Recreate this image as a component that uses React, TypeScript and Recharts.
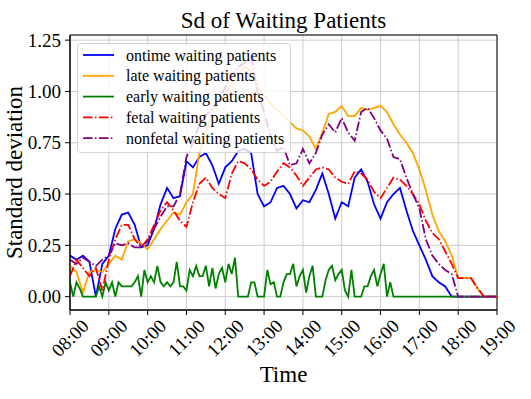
import React from 'react';
import { LineChart, Line, XAxis, YAxis, CartesianGrid, ReferenceArea } from 'recharts';

const serif = "'Liberation Serif', 'DejaVu Serif', serif";

const hourTicks = [8, 9, 10, 11, 12, 13, 14, 15, 16, 17, 18, 19];
const hourLabels = ['08:00', '09:00', '10:00', '11:00', '12:00', '13:00', '14:00', '15:00', '16:00', '17:00', '18:00', '19:00'];
const yTicks = [0, 0.25, 0.5, 0.75, 1.0, 1.25];

// every 10 minutes, 08:00 .. 19:00
const ontime = [
  0.20, 0.18, 0.20, 0.17, 0.00, 0.16,
  0.20, 0.33, 0.40, 0.41, 0.35, 0.24,
  0.25, 0.33, 0.45, 0.53, 0.48, 0.49,
  0.66, 0.63, 0.68, 0.70, 0.64, 0.55,
  0.63, 0.66, 0.71, 0.72, 0.70, 0.50,
  0.44, 0.46, 0.53, 0.54, 0.50, 0.43,
  0.47, 0.46, 0.52, 0.60, 0.50, 0.38,
  0.46, 0.44, 0.58, 0.62, 0.56, 0.45,
  0.38, 0.46, 0.50, 0.53, 0.42, 0.32,
  0.25, 0.18, 0.10, 0.07, 0.05, 0.00,
  0.00, 0.00, 0.00, 0.00, 0.00, 0.00, 0.00,
];

const late = [
  0.15, 0.12, 0.02, 0.12, 0.13, 0.12,
  0.16, 0.20, 0.18, 0.27, 0.28, 0.26,
  0.23, 0.28, 0.33, 0.37, 0.41, 0.40,
  0.46, 0.50, 0.70, 0.80, 0.90, 0.95,
  0.99, 1.04, 1.08, 1.12, 1.10, 1.02,
  0.98, 0.94, 0.91, 0.88, 0.85, 0.82,
  0.81, 0.78, 0.72, 0.80, 0.89, 0.90,
  0.93, 0.88, 0.88, 0.92, 0.91, 0.92,
  0.93, 0.90, 0.84, 0.79, 0.75, 0.70,
  0.62, 0.52, 0.40, 0.32, 0.27, 0.20,
  0.09, 0.09, 0.09, 0.04, 0.00, 0.00, 0.00,
];

// every 5 minutes, 08:00 .. 19:00
const early = [
  0.07, 0.00, 0.07, 0.04, 0.00, 0.00, 0.00, 0.00, 0.00, 0.05, 0.00, 0.07,
  0.03, 0.07, 0.00, 0.07, 0.05, 0.05, 0.05, 0.05, 0.07, 0.10, 0.00, 0.13,
  0.07, 0.10, 0.07, 0.15, 0.07, 0.05, 0.07, 0.05, 0.07, 0.17, 0.05, 0.05,
  0.03, 0.13, 0.10, 0.15, 0.10, 0.10, 0.15, 0.05, 0.14, 0.04, 0.11, 0.14,
  0.07, 0.16, 0.11, 0.19, 0.00, 0.00, 0.00, 0.00, 0.07, 0.07, 0.00, 0.00,
  0.00, 0.13, 0.06, 0.07, 0.00, 0.00, 0.07, 0.11, 0.11, 0.16, 0.05, 0.10,
  0.13, 0.02, 0.10, 0.15, 0.00, 0.00, 0.00, 0.08, 0.13, 0.15, 0.08, 0.11,
  0.13, 0.03, 0.00, 0.13, 0.00, 0.00, 0.00, 0.05, 0.05, 0.10, 0.13, 0.05,
  0.11, 0.16, 0.00, 0.07, 0.00, 0.00, 0.00, 0.00, 0.00, 0.00, 0.00, 0.00,
  0.00, 0.00, 0.00, 0.00, 0.00, 0.00, 0.00, 0.00, 0.00, 0.00, 0.00, 0.00,
  0.00, 0.00, 0.00, 0.00, 0.00, 0.00, 0.00, 0.00, 0.00, 0.00, 0.00, 0.00,
  0.00,
];

const fetal = [
  0.10, 0.18, 0.14, 0.10, 0.14, 0.03,
  0.18, 0.28, 0.35, 0.35, 0.28, 0.24,
  0.28, 0.35, 0.42, 0.46, 0.42, 0.37,
  0.34, 0.46, 0.55, 0.58, 0.53, 0.50,
  0.48, 0.60, 0.66, 0.65, 0.62, 0.57,
  0.54, 0.56, 0.61, 0.65, 0.63, 0.59,
  0.54, 0.58, 0.62, 0.63, 0.62, 0.58,
  0.56, 0.55, 0.61, 0.60, 0.57, 0.51,
  0.48, 0.53, 0.58, 0.57, 0.54, 0.50,
  0.45, 0.37, 0.31, 0.28, 0.22, 0.16,
  0.09, 0.09, 0.09, 0.04, 0.00, 0.00, 0.00,
];

const nonfetal = [
  0.18, 0.16, 0.19, 0.17, 0.15, 0.18,
  0.20, 0.26, 0.25, 0.26, 0.24, 0.24,
  0.27, 0.33, 0.39, 0.44, 0.44, 0.50,
  0.68, 0.75, 0.84, 0.88, 0.92, 0.96,
  1.02, 1.08, 1.12, 1.14, 1.17, 1.00,
  0.90, 0.78, 0.71, 0.73, 0.64, 0.65,
  0.72, 0.65, 0.70, 0.79, 0.84, 0.80,
  0.87, 0.80, 0.76, 0.90, 0.92, 0.87,
  0.81, 0.77, 0.68, 0.67, 0.58, 0.50,
  0.43, 0.28, 0.20, 0.16, 0.13, 0.11,
  0.00, 0.00, 0.00, 0.00, 0.00, 0.00, 0.00,
];

const data = early.map((e, i) => {
  const row: any = { t: 8 + i / 12, early: e };
  if (i % 2 === 0) {
    const k = i / 2;
    row.ontime = ontime[k];
    row.late = late[k];
    row.fetal = fetal[k];
    row.nonfetal = nonfetal[k];
  }
  return row;
});

const series = [
  { key: 'ontime', name: 'ontime waiting patients', color: '#0000ff', dash: undefined },
  { key: 'late', name: 'late waiting patients', color: '#ffa500', dash: undefined },
  { key: 'early', name: 'early waiting patients', color: '#008000', dash: undefined },
  { key: 'fetal', name: 'fetal waiting patients', color: '#ff0000', dash: '9.6 2.4 1.5 2.4' },
  { key: 'nonfetal', name: 'nonfetal waiting patients', color: '#800080', dash: '9.6 2.4 1.5 2.4' },
];

const XTick = (props: any) => {
  const { x, y, payload } = props;
  const cy = y + 21;
  return (
    <text x={x} y={cy} transform={`rotate(-45 ${x} ${cy})`} textAnchor="middle"
      dominantBaseline="central" fontSize={19} fontFamily={serif} fill="#000">
      {hourLabels[hourTicks.indexOf(payload.value)]}
    </text>
  );
};

const YTick = (props: any) => {
  const { x, y, payload } = props;
  return (
    <text x={x} y={y} textAnchor="end" dominantBaseline="central" fontSize={19} fontFamily={serif} fill="#000">
      {Number(payload.value).toFixed(2)}
    </text>
  );
};

export default function App() {
  return (
    <div style={{ position: 'absolute', left: 0, top: 0, width: 531, height: 399, background: '#fff' }}>
      <LineChart width={531} height={399} data={data} margin={{ top: 35, right: 34, bottom: 0, left: 0 }}>
        <CartesianGrid stroke="#cccccc" strokeWidth={1} />
        <XAxis dataKey="t" type="number" domain={[8, 19]} ticks={hourTicks} allowDataOverflow
          height={89} tickSize={5} tick={<XTick />} stroke="#000" tickLine={{ stroke: '#000' }} />
        <YAxis type="number" domain={[-0.065, 1.275]} ticks={yTicks} allowDataOverflow
          width={70} tickSize={5} tickMargin={4} tick={<YTick />} stroke="#000" tickLine={{ stroke: '#000' }} />
        {series.map((s) => (
          <Line key={s.key} dataKey={s.key} type="linear" stroke={s.color} strokeWidth={1.8}
            strokeDasharray={s.dash} dot={false} connectNulls isAnimationActive={false} />
        ))}
        <ReferenceArea x1={8} x2={19} y1={-0.065} y2={1.275} fill="none" stroke="#000" strokeWidth={1} />
      </LineChart>
      <svg width={531} height={399} style={{ position: 'absolute', left: 0, top: 0, pointerEvents: 'none' }}>
        <text x={283.5} y={28} textAnchor="middle" fontSize={23} fontFamily={serif} fill="#000">Sd of Waiting Patients</text>
        <text x={283.5} y={382} textAnchor="middle" fontSize={23} fontFamily={serif} fill="#000">Time</text>
        <text x={14} y={172.5} transform="rotate(-90 14 172.5)" textAnchor="middle" dominantBaseline="central"
          fontSize={23} fontFamily={serif} fill="#000">Standard deviation</text>
        <g>
          <rect x={77.5} y={43.5} width={213} height={109} rx={3} fill="rgba(255,255,255,0.8)" stroke="rgba(204,204,204,0.8)" />
          {series.map((s, i) => {
            const cy = 55 + i * 20.8;
            return (
              <g key={s.key}>
                <line x1={83} y1={cy} x2={114} y2={cy} stroke={s.color} strokeWidth={1.8} strokeDasharray={s.dash} />
                <text x={126} y={cy} dominantBaseline="central" fontSize={16} fontFamily={serif} fill="#000">{s.name}</text>
              </g>
            );
          })}
        </g>
      </svg>
    </div>
  );
}
